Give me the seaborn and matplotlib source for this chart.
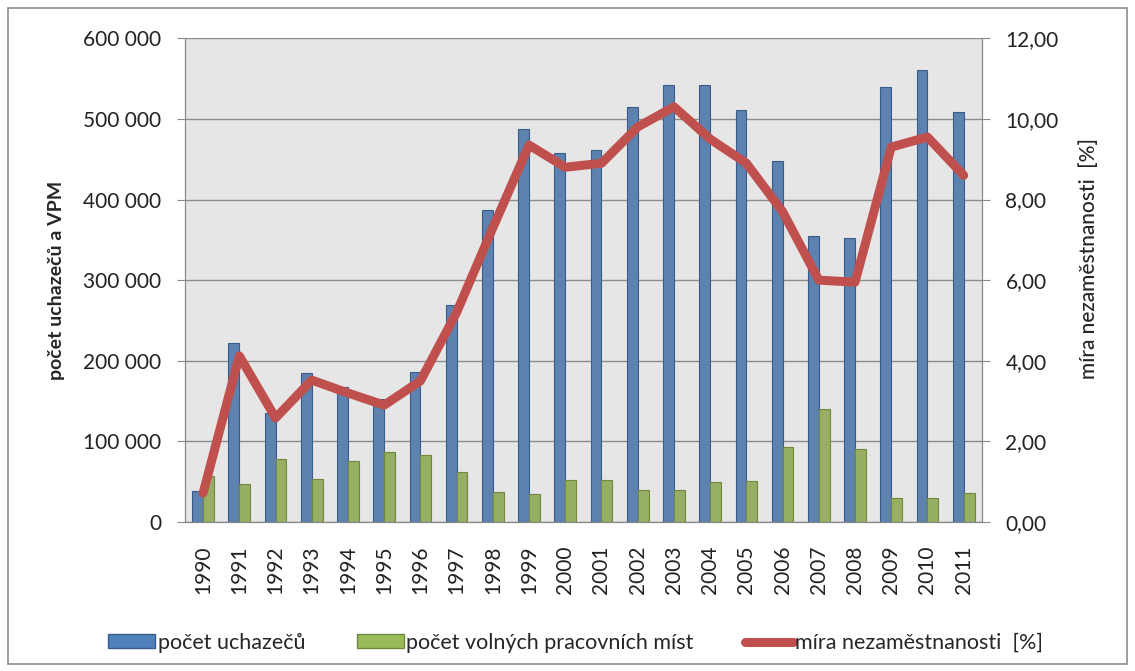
import numpy as np
import pandas as pd
import matplotlib.pyplot as plt
import seaborn as sns
from matplotlib.patches import Patch, Rectangle
from matplotlib.lines import Line2D
from matplotlib.ticker import FuncFormatter

years = [str(y) for y in range(1990, 2012)]
uchazeci = [39000, 222000, 135000, 185000, 167000, 153000, 186000, 269000, 387000, 488000,
            458000, 462000, 515000, 542000, 542000, 511000, 448000, 355000, 352000, 539000,
            561000, 508000]
vpm = [57000, 47000, 78500, 53000, 75600, 87000, 83000, 62000, 37000, 34500,
       52000, 52000, 40000, 40000, 50000, 51000, 93000, 140000, 90500, 30000,
       30000, 36000]
mira = [0.72, 4.12, 2.58, 3.52, 3.2, 2.9, 3.5, 5.2, 7.3, 9.35,
        8.8, 8.9, 9.8, 10.3, 9.5, 8.9, 7.7, 6.0, 5.95, 9.3,
        9.55, 8.6]

lab_u = "počet uchazečů"
lab_v = "počet volných pracovních míst"
lab_m = "míra nezaměstnanosti  [%]"

df = pd.DataFrame({"rok": years * 2,
                   "hodnota": uchazeci + vpm,
                   "serie": [lab_u] * len(years) + [lab_v] * len(years)})

sns.set_style("white")
plt.rcParams["font.family"] = ["Lato", "DejaVu Sans"]

blue, green, red = "#4f81bd", "#9bbb59", "#c0504d"
grey = "#888888"

fig = plt.figure(figsize=(11.35, 6.71), dpi=100)
ax = fig.add_axes([0.163, 0.222, 0.702, 0.721])
ax.set_facecolor("#e6e6e6")

sns.barplot(data=df, x="rok", y="hodnota", hue="serie", palette=[blue, green],
            width=0.6, gap=0, legend=False, ax=ax)
for p, c in zip(ax.patches, [blue] * len(years) + [green] * len(years)):
    p.set_edgecolor("#385d8a" if c == blue else "#71893f")
    p.set_linewidth(0.8)

ax.set_xlim(-0.5, len(years) - 0.5)
ax.set_ylim(0, 600000)
ax.set_yticks(np.arange(0, 600001, 100000))
ax.yaxis.set_major_formatter(FuncFormatter(lambda v, _: f"{int(v):,}".replace(",", " ")))
ax.yaxis.grid(True, color="#8c8c8c", lw=1)
ax.set_axisbelow(True)
ax.set_xlabel("")
ax.set_ylabel("počet uchazečů a VPM", fontsize=14, fontweight="bold")
ax.yaxis.set_label_coords(-0.15, 0.5)
ax.tick_params(axis="x", which="major", length=0, labelrotation=90, labelsize=15, pad=17)
ax.set_xticks(np.arange(-0.5, len(years), 1), minor=True)
ax.tick_params(axis="x", which="minor", length=6, color=grey, width=1)
ax.tick_params(axis="y", length=6, color=grey, labelsize=15, pad=11, labelcolor="#222222")
ax.tick_params(axis="x", labelcolor="#222222")
for s in ax.spines.values():
    s.set_color(grey)
ax.spines["top"].set_visible(False)

ax2 = ax.twinx()
sns.pointplot(x=years, y=mira, color=red, markers="", linestyles="-", linewidth=6.5,
              ax=ax2, errorbar=None)
ax2.set_xlim(-0.5, len(years) - 0.5)
ax2.set_ylim(0, 12)
ax2.set_yticks(np.arange(0, 12.1, 2))
ax2.yaxis.set_major_formatter(FuncFormatter(lambda v, _: f"{v:.2f}".replace(".", ",")))
ax2.set_ylabel(lab_m, fontsize=15, fontweight="medium")
ax2.yaxis.set_label_coords(1.122, 0.545)
ax2.tick_params(axis="y", length=6, color=grey, labelsize=15, pad=11, labelcolor="#222222")
for s in ax2.spines.values():
    s.set_color(grey)
ax2.spines["top"].set_visible(False)

handles = [Patch(facecolor=blue, edgecolor="#385d8a"),
           Patch(facecolor=green, edgecolor="#71893f"),
           Line2D([0], [0], color=red, lw=6.5, solid_capstyle="round")]
fig.legend(handles, [lab_u, lab_v, lab_m], loc="center", bbox_to_anchor=(0.507, 0.042),
           ncol=3, frameon=False, fontsize=15.5, handlelength=2.2, handleheight=0.6,
           handletextpad=0.1, columnspacing=2.4)

fig.add_artist(Rectangle((0.007, 0.01), 0.986, 0.978, transform=fig.transFigure,
                         fill=False, edgecolor="#8c8c8c", lw=1.2))

fig.savefig("out.png", dpi=100)
